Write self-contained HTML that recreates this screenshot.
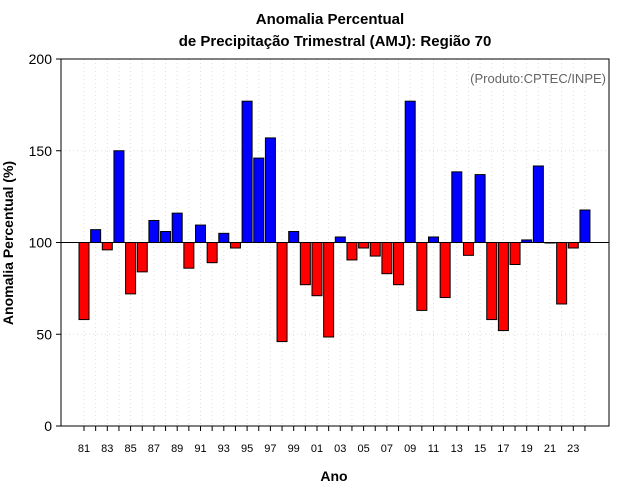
<!DOCTYPE html>
<html><head><meta charset="utf-8"><style>
html,body{margin:0;padding:0;background:#fff;}
svg{display:block;font-family:"Liberation Sans",sans-serif;}
</style></head><body>
<svg id="chart" width="640" height="500">
<text x="330" y="24" text-anchor="middle" font-size="15" font-weight="bold">Anomalia Percentual</text>
<text x="335" y="46" text-anchor="middle" font-size="15" font-weight="bold">de Precipitação Trimestral (AMJ): Região 70</text>
<g id="grid"></g>
<g id="bars"></g>
<g id="axes"></g>
<text x="606" y="83" text-anchor="end" font-size="13" fill="#666">(Produto:CPTEC/INPE)</text>
<text x="334" y="481" text-anchor="middle" font-size="14" font-weight="bold">Ano</text>
<text transform="translate(13,243) rotate(-90)" text-anchor="middle" font-size="14" font-weight="bold">Anomalia Percentual (%)</text>
</svg>
<script>
const years = [1981,1982,1983,1984,1985,1986,1987,1988,1989,1990,1991,1992,1993,1994,1995,1996,1997,1998,1999,2000,2001,2002,2003,2004,2005,2006,2007,2008,2009,2010,2011,2012,2013,2014,2015,2016,2017,2018,2019,2020,2021,2022,2023,2024];
const values = [58,107,96,150,72,84,112,106,116,86,109.5,89,105,97,177,146,157,46,106,77,71,48.5,103,90.5,97,92.6,83,77,177,63,103,70,138.5,93,137,58,52,88,101.4,141.7,100,66.5,97,117.7];
const yTicks = [0,50,100,150,200];
const xTickYears = [1981,1983,1985,1987,1989,1991,1993,1995,1997,1999,2001,2003,2005,2007,2009,2011,2013,2015,2017,2019,2021,2023];

const NS="http://www.w3.org/2000/svg";
const L=61,R=609,T=59,B=426;
const yS=v=>B-(v/200)*(B-T);
const xS=i=>84+i*11.65;
function mk(tag,attrs,parent){const e=document.createElementNS(NS,tag);for(const k in attrs)e.setAttribute(k,attrs[k]);parent.appendChild(e);return e;}
const grid=document.getElementById('grid'),bars=document.getElementById('bars'),axes=document.getElementById('axes');
// vertical grid
years.forEach((y,i)=>{const g=mk('line',{x1:xS(i),x2:xS(i),y1:T,y2:B,stroke:'#ddd','stroke-dasharray':'1,3'},grid);

});
yTicks.forEach(v=>{const g=mk('line',{x1:L,x2:R,y1:yS(v),y2:yS(v),stroke:'#ddd','stroke-dasharray':'1,3'},grid);

});
// bars
values.forEach((v,i)=>{const y0=yS(100),y1=yS(v);
const r=mk('rect',{x:xS(i)-5,y:Math.min(y0,y1),width:10,height:Math.max(0.5,Math.abs(y1-y0)),fill:v>=100?'#0000ff':'#ff0000',stroke:'#000','stroke-width':1},bars);

});
// baseline
const bl=mk('line',{x1:L,x2:R,y1:yS(100),y2:yS(100),stroke:'#000','stroke-width':1},axes);


// frame
const fr=mk('rect',{x:L,y:T,width:R-L,height:B-T,fill:'none',stroke:'#000'},axes);


// y ticks
yTicks.forEach(v=>{mk('line',{x1:L-5,x2:L,y1:yS(v),y2:yS(v),stroke:'#000'},axes);
const t=mk('text',{x:L-9,y:yS(v)+5,'text-anchor':'end','font-size':14},axes);t.textContent=v;

});
// x ticks
years.forEach((y,i)=>{mk('line',{x1:xS(i),x2:xS(i),y1:B,y2:B+5,stroke:'#000'},axes);});
xTickYears.forEach(y=>{const i=years.indexOf(y);
const t=mk('text',{x:xS(i),y:452,'text-anchor':'middle','font-size':11},axes);t.textContent=String(y).slice(2);

});
</script>
</body></html>
